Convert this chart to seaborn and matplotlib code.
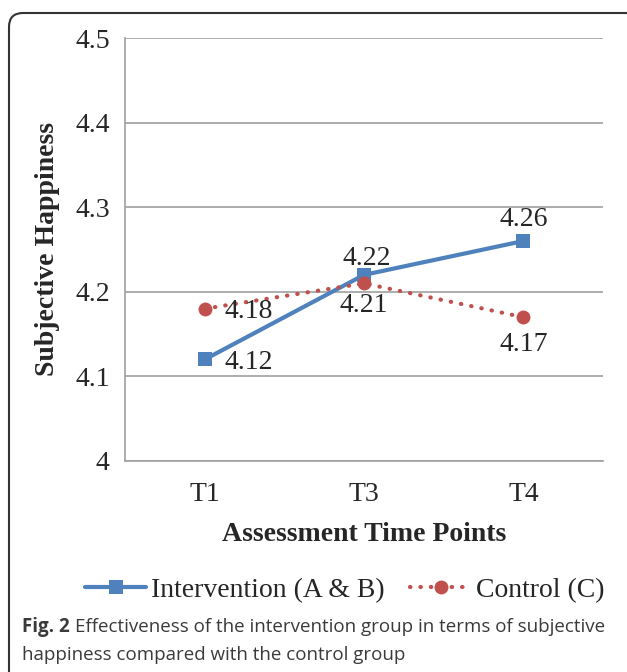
import matplotlib
matplotlib.use("Agg")
import matplotlib.pyplot as plt
from matplotlib.patches import FancyBboxPatch
from matplotlib.transforms import IdentityTransform
import pandas as pd
import seaborn as sns

time_points = ["T1", "T3", "T4"]
intervention = [4.12, 4.22, 4.26]
control = [4.18, 4.21, 4.17]
y_ticks = [4, 4.1, 4.2, 4.3, 4.4, 4.5]
y_tick_labels = ["4", "4.1", "4.2", "4.3", "4.4", "4.5"]

df = pd.DataFrame({
    "time": time_points * 2,
    "score": intervention + control,
    "group": ["Intervention (A & B)"] * 3 + ["Control (C)"] * 3,
})

sns.set_style("white")
plt.rcParams["font.family"] = ["Liberation Serif", "DejaVu Serif"]

blue = "#4F81BD"
red = "#C0504D"
grid_c = "#a0a0a0"
fs = 20

fig = plt.figure(figsize=(6.27, 6.72), dpi=100)
ax = fig.add_axes([125 / 627, 1 - 461 / 672, 478 / 627, 423 / 672])

sub = df[df.group == "Intervention (A & B)"]
sns.lineplot(data=sub, x="time", y="score", ax=ax, color=blue, lw=3,
             marker="s", markersize=9.5, markeredgewidth=0,
             label="Intervention (A & B)", sort=False)
sub = df[df.group == "Control (C)"]
sns.lineplot(data=sub, x="time", y="score", ax=ax, color=red, lw=3,
             linestyle=(0, (0.1, 2.4)),
             marker="o", markersize=10, markeredgewidth=0,
             label="Control (C)", sort=False)
for ln in ax.get_lines():
    ln.set_dash_capstyle("round")

ax.set_xlim(-0.5, 2.5)
ax.set_ylim(4, 4.5)
ax.set_yticks(y_ticks)
ax.set_yticklabels(y_tick_labels)
ax.yaxis.grid(True, color=grid_c, lw=1.2)
ax.set_axisbelow(True)
for s in ["top", "right"]:
    ax.spines[s].set_visible(False)
for s in ["left", "bottom"]:
    ax.spines[s].set_color(grid_c)
    ax.spines[s].set_linewidth(1.2)

ax.tick_params(axis="y", which="major", direction="out", length=6,
               color=grid_c, width=1.2, labelsize=fs, pad=5)
ax.set_xticks([0, 1, 2])
ax.set_xticklabels(time_points)
ax.set_xticks([-0.5, 0.5, 1.5, 2.5], minor=True)
ax.tick_params(axis="x", which="major", length=0, labelsize=fs, pad=15)
ax.tick_params(axis="x", which="minor", direction="out", length=6,
               color=grid_c, width=1.2)

ax.set_xlabel("Assessment Time Points", fontsize=fs, fontweight="bold", labelpad=11)
ax.set_ylabel("Subjective Happiness", fontsize=fs, fontweight="bold", labelpad=11)

# data labels: (dx, dy in pixels, ha)
offsets_i = [(20, 0, "left"), (3, 19, "center"), (0, 25, "center")]
offsets_c = [(20, 0, "left"), (0, -19, "center"), (0, -24, "center")]
for vals, offs in [(intervention, offsets_i), (control, offsets_c)]:
    for i, (v, o) in enumerate(zip(vals, offs)):
        ax.annotate(f"{v:.2f}", (i, v), xytext=o[:2], textcoords="offset pixels",
                    ha=o[2], va="center_baseline", fontsize=fs)

handles, labels = ax.get_legend_handles_labels()
ax.legend(handles, labels, loc="center", bbox_to_anchor=(345 / 627, 1 - 590 / 672),
          bbox_transform=fig.transFigure, ncol=2, frameon=False, fontsize=fs,
          handlelength=2.2, handletextpad=0.18, columnspacing=0.9)

cap_kw = dict(fontsize=13.5, family="Open Sans", color="#3a3a3a", va="center")
t = fig.text(22 / 627, 1 - 627 / 672, "Fig. 2", fontweight="bold", **cap_kw)
fig.canvas.draw()
bb = t.get_window_extent()
fig.text((bb.x1 + 5) / 627, 1 - 627 / 672,
         "Effectiveness of the intervention group in terms of subjective", **cap_kw)
fig.text(22 / 627, 1 - 655 / 672, "happiness compared with the control group", **cap_kw)

# rounded frame, right and bottom edges run off the image
box = FancyBboxPatch((9, -30), 632, 672 - 13 + 30,
                     boxstyle="round,pad=0,rounding_size=14",
                     transform=IdentityTransform(), fill=False,
                     edgecolor="#333333", lw=1.5)
fig.patches.append(box)

fig.savefig("out.png", dpi=100)
